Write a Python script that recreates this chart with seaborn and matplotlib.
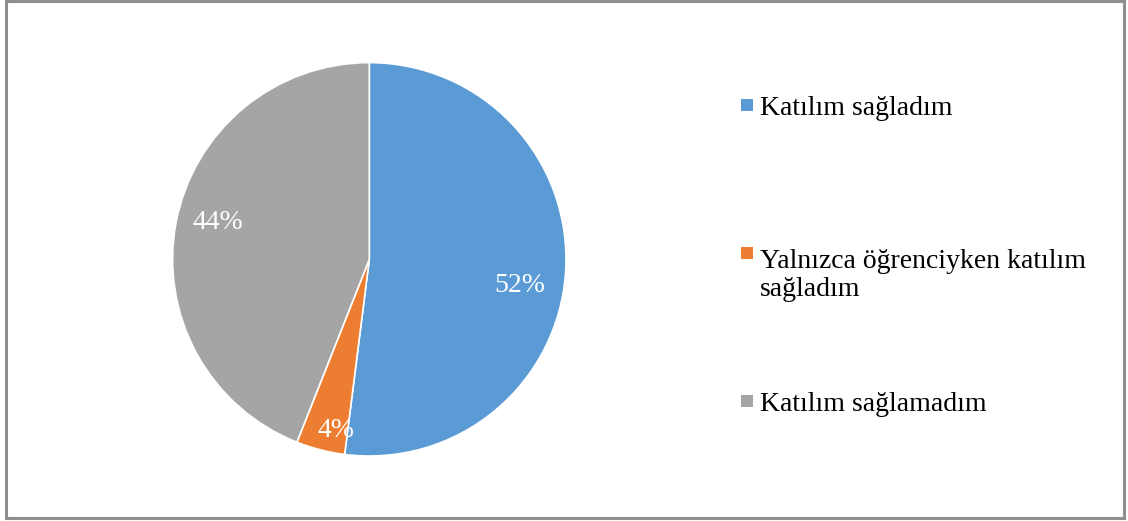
import matplotlib
matplotlib.use("Agg")
import matplotlib.pyplot as plt
from matplotlib.patches import Rectangle
import seaborn as sns

# Survey answers and their shares (%)
categories = ["Katılım sağladım",
              "Yalnızca öğrenciyken katılım\nsağladım",
              "Katılım sağlamadım"]
shares = [52, 4, 44]
colors = ["#5B9BD5", "#ED7D31", "#A5A5A5"]

sns.set_theme(style="white")
plt.rcParams["font.family"] = ["Liberation Serif", "DejaVu Serif"]

W, H = 1128, 521
FS = 20
fig = plt.figure(figsize=(W / 100, H / 100), dpi=100)
fig.patch.set_facecolor("white")

# Pie axes: centre ~ (369, 259) px, radius ~197 px
cx, cy, r = 369.3, 259.3, 196.7
ax = fig.add_axes([(cx - r) / W, (H - cy - r) / H, 2 * r / W, 2 * r / H])
wedges, _, autotexts = ax.pie(
    shares, colors=colors, startangle=90, counterclock=False,
    autopct=lambda p: f"{p:.0f}%", radius=1.0,
    wedgeprops=dict(edgecolor="white", linewidth=1.2),
    textprops=dict(color="white", fontsize=FS),
)
ax.set_xlim(-1, 1)
ax.set_ylim(-1, 1)
ax.set_aspect("equal")
ax.axis("off")

# Percent label placement inside each wedge (axes data units, text baseline)
label_pos = [(0.764, -0.166), (-0.167, -0.902), (-0.772, 0.154)]
for t, (x, y) in zip(autotexts, label_pos):
    t.set_position((x, y))
    t.set_ha("center")
    t.set_va("baseline")

# Legend drawn as square swatches with text to the right;
# swatch sits beside the first line of each label
baselines = [115, 263, 411]
line_px = 1.2 * FS * 100 / 72
sq = 12
for label, color, base in zip(categories, colors, baselines):
    fig.patches.append(Rectangle((741 / W, (H - base + 4) / H), sq / W, sq / H,
                                 transform=fig.transFigure, facecolor=color,
                                 edgecolor="none"))
    last_base = base + label.count("\n") * line_px
    fig.text(760 / W, (H - last_base) / H, label, ha="left", va="baseline",
             fontsize=FS, color="black", linespacing=1.2)

# Outer frame of the chart area
fig.patches.append(Rectangle((5.5 / W, 2.7 / H), (1123.5 - 5.5) / W, (519.7 - 2.7) / H,
                             transform=fig.transFigure, fill=False,
                             edgecolor="#8e8e8e", linewidth=2.2))

fig.savefig("out.png", dpi=100, facecolor="white")
